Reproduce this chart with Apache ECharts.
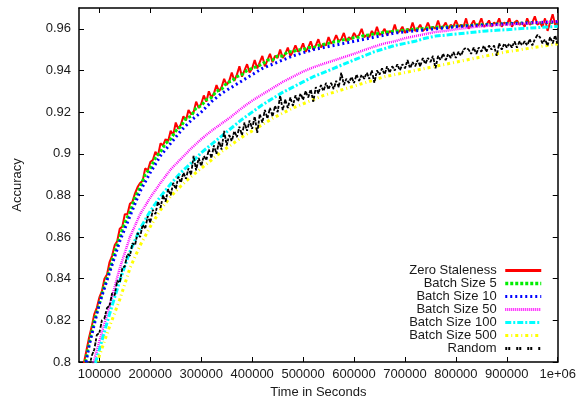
<!DOCTYPE html>
<html>
<head>
<meta charset="utf-8">
<script src="https://cdn.jsdelivr.net/npm/echarts@6/dist/echarts.min.js"></script>
<style>
  html, body { margin: 0; padding: 0; background: #fff; }
  #chart { width: 579px; height: 404px; }
</style>
</head>
<body>
<div id="chart"></div>
<script>
// Sample times (seconds)
const timeDense = [
  60000, 65000, 70000, 75000, 80000, 85000, 90000, 95000, 100000, 105000,
  110000, 115000, 120000, 125000, 130000, 135000, 140000, 145000, 150000, 155000,
  160000, 165000, 170000, 175000, 180000, 185000, 190000, 195000, 200000, 205000,
  210000, 215000, 220000, 225000, 230000, 235000, 240000, 245000, 250000, 255000,
  260000, 265000, 270000, 275000, 280000, 285000, 290000, 295000, 300000, 305000,
  310000, 315000, 320000, 325000, 330000, 335000, 340000, 345000, 350000, 355000,
  360000, 365000, 370000, 375000, 380000, 385000, 390000, 395000, 400000, 405000,
  410000, 415000, 420000, 425000, 430000, 435000, 440000, 445000, 450000, 455000,
  460000, 465000, 470000, 475000, 480000, 485000, 490000, 495000, 500000, 505000,
  510000, 515000, 520000, 525000, 530000, 535000, 540000, 545000, 550000, 555000,
  560000, 565000, 570000, 575000, 580000, 585000, 590000, 595000, 600000, 605000,
  610000, 615000, 620000, 625000, 630000, 635000, 640000, 645000, 650000, 655000,
  660000, 665000, 670000, 675000, 680000, 685000, 690000, 695000, 700000, 705000,
  710000, 715000, 720000, 725000, 730000, 735000, 740000, 745000, 750000, 755000,
  760000, 765000, 770000, 775000, 780000, 785000, 790000, 795000, 800000, 805000,
  810000, 815000, 820000, 825000, 830000, 835000, 840000, 845000, 850000, 855000,
  860000, 865000, 870000, 875000, 880000, 885000, 890000, 895000, 900000, 905000,
  910000, 915000, 920000, 925000, 930000, 935000, 940000, 945000, 950000, 955000,
  960000, 965000, 970000, 975000, 980000, 985000, 990000, 995000, 1000000
];
const timeFine = [
  60000, 70000, 80000, 90000, 100000, 110000, 120000, 130000, 140000, 150000,
  160000, 170000, 180000, 190000, 200000, 210000, 220000, 230000, 240000, 250000,
  260000, 270000, 280000, 290000, 300000, 310000, 320000, 330000, 340000, 350000,
  360000, 370000, 380000, 390000, 400000, 410000, 420000, 430000, 440000, 450000,
  460000, 470000, 480000, 490000, 500000, 510000, 520000, 530000, 540000, 550000,
  560000, 570000, 580000, 590000, 600000, 610000, 620000, 630000, 640000, 650000,
  660000, 670000, 680000, 690000, 700000, 710000, 720000, 730000, 740000, 750000,
  760000, 770000, 780000, 790000, 800000, 810000, 820000, 830000, 840000, 850000,
  860000, 870000, 880000, 890000, 900000, 910000, 920000, 930000, 940000, 950000,
  960000, 970000, 980000, 990000, 1000000
];
const timeCoarse = [
  60000, 80000, 100000, 120000, 140000, 160000, 180000, 200000, 220000, 240000,
  260000, 280000, 300000, 320000, 340000, 360000, 380000, 400000, 420000, 440000,
  460000, 480000, 500000, 520000, 540000, 560000, 580000, 600000, 620000, 640000,
  660000, 680000, 700000, 720000, 740000, 760000, 780000, 800000, 820000, 840000,
  860000, 880000, 900000, 920000, 940000, 960000, 980000, 1000000
];

// Accuracy per run
const zeroStaleness = [
  0.783, 0.792, 0.800, 0.806, 0.812, 0.817, 0.823, 0.826, 0.831, 0.834,
  0.840, 0.842, 0.848, 0.851, 0.856, 0.858, 0.864, 0.865, 0.871, 0.871,
  0.876, 0.877, 0.881, 0.884, 0.886, 0.887, 0.893, 0.892, 0.896, 0.897,
  0.901, 0.899, 0.905, 0.904, 0.907, 0.906, 0.911, 0.909, 0.915, 0.912,
  0.914, 0.918, 0.916, 0.921, 0.919, 0.920, 0.925, 0.922, 0.924, 0.928,
  0.925, 0.930, 0.927, 0.929, 0.933, 0.930, 0.932, 0.936, 0.933, 0.935,
  0.939, 0.935, 0.938, 0.942, 0.937, 0.940, 0.943, 0.939, 0.941, 0.945,
  0.941, 0.944, 0.947, 0.942, 0.945, 0.948, 0.944, 0.947, 0.946, 0.950,
  0.946, 0.948, 0.951, 0.947, 0.949, 0.952, 0.949, 0.950, 0.953, 0.949,
  0.951, 0.954, 0.950, 0.952, 0.955, 0.951, 0.953, 0.952, 0.956, 0.953,
  0.954, 0.957, 0.954, 0.955, 0.958, 0.954, 0.956, 0.955, 0.958, 0.956,
  0.957, 0.960, 0.956, 0.957, 0.956, 0.959, 0.957, 0.961, 0.957, 0.958,
  0.960, 0.957, 0.959, 0.958, 0.962, 0.958, 0.959, 0.961, 0.958, 0.960,
  0.959, 0.963, 0.959, 0.960, 0.962, 0.959, 0.960, 0.963, 0.960, 0.961,
  0.960, 0.964, 0.960, 0.961, 0.963, 0.960, 0.962, 0.961, 0.964, 0.961,
  0.962, 0.961, 0.965, 0.960, 0.962, 0.964, 0.961, 0.962, 0.965, 0.961,
  0.962, 0.964, 0.961, 0.963, 0.962, 0.965, 0.961, 0.963, 0.962, 0.965,
  0.961, 0.963, 0.964, 0.962, 0.963, 0.961, 0.965, 0.962, 0.963, 0.966,
  0.962, 0.963, 0.961, 0.965, 0.959, 0.963, 0.967, 0.962, 0.963
];
const batch5 = [
  0.781, 0.797, 0.809, 0.820, 0.828, 0.837, 0.844, 0.853, 0.860, 0.867,
  0.872, 0.879, 0.884, 0.890, 0.893, 0.898, 0.901, 0.905, 0.907, 0.911,
  0.913, 0.917, 0.918, 0.922, 0.923, 0.926, 0.927, 0.930, 0.931, 0.934,
  0.935, 0.937, 0.938, 0.940, 0.941, 0.942, 0.943, 0.945, 0.945, 0.947,
  0.947, 0.949, 0.949, 0.950, 0.950, 0.951, 0.951, 0.952, 0.9525, 0.953,
  0.9537, 0.954, 0.9548, 0.955, 0.9558, 0.956, 0.9568, 0.957, 0.9576, 0.9578,
  0.9584, 0.9585, 0.959, 0.959, 0.9594, 0.9595, 0.9599, 0.960, 0.9603, 0.9604,
  0.9607, 0.9607, 0.961, 0.961, 0.9613, 0.9613, 0.9616, 0.9616, 0.9619, 0.9619,
  0.9621, 0.9621, 0.9623, 0.9623, 0.9625, 0.9625, 0.9627, 0.9627, 0.9628, 0.9628,
  0.963, 0.963, 0.9631, 0.9632, 0.9633
];
const batch10 = [
  0.781, 0.808, 0.828, 0.843, 0.858, 0.870, 0.882, 0.891, 0.899, 0.905,
  0.911, 0.916, 0.920, 0.925, 0.929, 0.932, 0.935, 0.938, 0.941, 0.943,
  0.945, 0.947, 0.9485, 0.950, 0.951, 0.952, 0.953, 0.954, 0.955, 0.956,
  0.957, 0.958, 0.9585, 0.959, 0.9595, 0.960, 0.9605, 0.961, 0.9613, 0.9616,
  0.9619, 0.9622, 0.9624, 0.9626, 0.9628, 0.963, 0.9632, 0.9634
];
const batch50 = [
  0.765, 0.792, 0.810, 0.827, 0.845, 0.860, 0.871, 0.879, 0.886, 0.8925,
  0.8975, 0.9025, 0.907, 0.911, 0.9145, 0.918, 0.922, 0.9255, 0.9285, 0.9315,
  0.9345, 0.937, 0.9395, 0.9415, 0.9432, 0.9448, 0.9464, 0.948, 0.9498, 0.9515,
  0.953, 0.954, 0.9555, 0.9565, 0.9575, 0.9585, 0.959, 0.9598, 0.9604, 0.961,
  0.9614, 0.9618, 0.962, 0.9623, 0.9626, 0.963, 0.9633, 0.9636
];
const batch100 = [
  0.760, 0.789, 0.806, 0.823, 0.839, 0.853, 0.864, 0.8725, 0.8795, 0.8855,
  0.891, 0.8955, 0.9005, 0.9045, 0.9085, 0.9125, 0.9165, 0.920, 0.9235, 0.9265,
  0.9295, 0.932, 0.9345, 0.937, 0.939, 0.941, 0.943, 0.945, 0.947, 0.949,
  0.9505, 0.952, 0.953, 0.954, 0.9555, 0.9565, 0.957, 0.9575, 0.958, 0.9585,
  0.959, 0.9593, 0.9596, 0.960, 0.9603, 0.9606, 0.9609, 0.9612
];
const batch500 = [
  0.755, 0.783, 0.803, 0.817, 0.830, 0.845, 0.856, 0.865, 0.873, 0.8795,
  0.8845, 0.889, 0.893, 0.897, 0.901, 0.9045, 0.908, 0.911, 0.914, 0.917,
  0.9195, 0.922, 0.924, 0.926, 0.928, 0.9295, 0.931, 0.9325, 0.934, 0.9355,
  0.937, 0.938, 0.939, 0.940, 0.941, 0.942, 0.943, 0.944, 0.945, 0.946,
  0.947, 0.948, 0.949, 0.9497, 0.9505, 0.9513, 0.952, 0.9528
];
const randomRun = [
  0.770, 0.778, 0.786, 0.790, 0.797, 0.803, 0.806, 0.813, 0.814, 0.820,
  0.821, 0.826, 0.827, 0.833, 0.832, 0.839, 0.838, 0.845, 0.846, 0.852,
  0.851, 0.857, 0.856, 0.862, 0.860, 0.866, 0.864, 0.870, 0.867, 0.873,
  0.871, 0.877, 0.874, 0.880, 0.877, 0.883, 0.880, 0.886, 0.883, 0.889,
  0.886, 0.891, 0.888, 0.893, 0.890, 0.899, 0.892, 0.898, 0.894, 0.899,
  0.897, 0.902, 0.898, 0.904, 0.900, 0.906, 0.902, 0.911, 0.904, 0.909,
  0.906, 0.911, 0.908, 0.913, 0.909, 0.915, 0.911, 0.916, 0.912, 0.918,
  0.910, 0.919, 0.915, 0.921, 0.917, 0.922, 0.918, 0.923, 0.920, 0.928,
  0.921, 0.926, 0.922, 0.927, 0.923, 0.928, 0.925, 0.929, 0.926, 0.930,
  0.927, 0.931, 0.925, 0.932, 0.929, 0.933, 0.930, 0.934, 0.931, 0.934,
  0.931, 0.935, 0.932, 0.939, 0.933, 0.936, 0.934, 0.937, 0.934, 0.938,
  0.935, 0.938, 0.936, 0.939, 0.936, 0.940, 0.934, 0.940, 0.938, 0.941,
  0.938, 0.942, 0.939, 0.942, 0.940, 0.943, 0.940, 0.943, 0.941, 0.945,
  0.941, 0.944, 0.942, 0.945, 0.942, 0.946, 0.943, 0.946, 0.944, 0.947,
  0.941, 0.947, 0.945, 0.948, 0.945, 0.948, 0.946, 0.949, 0.946, 0.949,
  0.947, 0.950, 0.951, 0.950, 0.948, 0.951, 0.948, 0.951, 0.949, 0.952,
  0.949, 0.952, 0.950, 0.952, 0.947, 0.953, 0.950, 0.953, 0.951, 0.953,
  0.951, 0.954, 0.951, 0.954, 0.952, 0.954, 0.952, 0.955, 0.952, 0.955,
  0.957, 0.956, 0.953, 0.955, 0.952, 0.956, 0.953, 0.957, 0.952
];

// Axis ticks
const xTicks = [100000, 200000, 300000, 400000, 500000, 600000, 700000, 800000, 900000, 1000000];
const yTicks = [0.8, 0.82, 0.84, 0.86, 0.88, 0.9, 0.92, 0.94, 0.96];

const FONT = '"Liberation Sans", Arial, Helvetica, sans-serif';
const TEXT = '#1a1a1a';

// Plot stroke vs. legend sample stroke for each run
const runs = [
  { name: 'Zero Staleness', t: timeDense,  v: zeroStaleness, color: '#ff0000', width: 2,   dash: 'solid',      legendDash: 'solid',      legendW: 3 },
  { name: 'Batch Size 5',   t: timeFine,   v: batch5,        color: '#00ee00', width: 3,   dash: [3, 2],       legendDash: [3, 2],       legendW: 3.5 },
  { name: 'Batch Size 10',  t: timeCoarse, v: batch10,       color: '#0000ff', width: 3,   dash: [2, 3],       legendDash: [2, 3],       legendW: 3 },
  { name: 'Batch Size 50',  t: timeCoarse, v: batch50,       color: '#ff00ff', width: 2.5, dash: [1, 1],       legendDash: [1, 1],       legendW: 3 },
  { name: 'Batch Size 100', t: timeCoarse, v: batch100,      color: '#00ffff', width: 3,   dash: [6, 2, 2, 2], legendDash: [6, 2, 2, 2], legendW: 3 },
  { name: 'Batch Size 500', t: timeCoarse, v: batch500,      color: '#ffff00', width: 3,   dash: [3, 3, 1, 3], legendDash: [3, 3, 1, 3], legendW: 3 },
  { name: 'Random',         t: timeDense,  v: randomRun,     color: '#000000', width: 1.8, dash: [4, 1, 3, 2], legendDash: [2, 1, 2, 6], legendW: 3 }
];

const chart = echarts.init(document.getElementById('chart'), null, { renderer: 'canvas' });

const tickCommon = { show: true, inside: true, length: 5, lineStyle: { color: '#000', width: 1 } };
const lineCommon = { show: true, onZero: false, lineStyle: { color: '#000', width: 1.5 } };

chart.setOption({
  animation: false,
  backgroundColor: '#fff',
  textStyle: { fontFamily: FONT },
  grid: { left: 79, right: 21, top: 8, bottom: 42, containLabel: false },
  xAxis: [
    {
      type: 'value', position: 'bottom', min: 60000, max: 1000000,
      name: 'Time in Seconds', nameLocation: 'middle', nameGap: 24,
      nameTextStyle: { fontSize: 13, color: TEXT, fontFamily: FONT },
      axisLine: lineCommon,
      axisTick: Object.assign({ customValues: xTicks }, tickCommon),
      axisLabel: {
        customValues: xTicks, margin: 6, fontSize: 13, color: TEXT, fontFamily: FONT,
        formatter: v => (v === 1000000 ? '1e+06' : String(v))
      },
      splitLine: { show: false }
    },
    {
      type: 'value', position: 'top', min: 60000, max: 1000000,
      axisLine: lineCommon,
      axisTick: Object.assign({ customValues: xTicks }, tickCommon),
      axisLabel: { show: false },
      splitLine: { show: false }
    }
  ],
  yAxis: [
    {
      type: 'value', position: 'left', min: 0.8, max: 0.97,
      name: 'Accuracy', nameLocation: 'middle', nameGap: 55, nameRotate: 90,
      nameTextStyle: { fontSize: 13, color: TEXT, fontFamily: FONT },
      axisLine: lineCommon,
      axisTick: Object.assign({ customValues: yTicks }, tickCommon),
      axisLabel: { customValues: yTicks, margin: 8, fontSize: 13, color: TEXT, fontFamily: FONT },
      splitLine: { show: false }
    },
    {
      type: 'value', position: 'right', min: 0.8, max: 0.97,
      axisLine: lineCommon,
      axisTick: Object.assign({ customValues: yTicks }, tickCommon),
      axisLabel: { show: false },
      splitLine: { show: false }
    }
  ],
  legend: {
    orient: 'vertical', align: 'right', right: 36, top: 264,
    padding: 0, itemGap: 0, itemWidth: 36, itemHeight: 13.3,
    selectedMode: false,
    textStyle: { fontSize: 13, color: TEXT, fontFamily: FONT, lineHeight: 13 },
    formatter: name => name + ' ',
    itemStyle: { opacity: 0 },
    data: runs.map(r => ({
      name: r.name,
      lineStyle: { width: r.legendW, type: r.legendDash, color: r.color }
    }))
  },
  series: runs.map(r => ({
    name: r.name,
    type: 'line',
    xAxisIndex: 0, yAxisIndex: 0,
    symbol: 'none',
    data: r.t.map((t, i) => [t, r.v[i]]),
    lineStyle: { color: r.color, width: r.width, type: r.dash },
    itemStyle: { color: r.color },
    clip: true
  }))
});
</script>
</body>
</html>
